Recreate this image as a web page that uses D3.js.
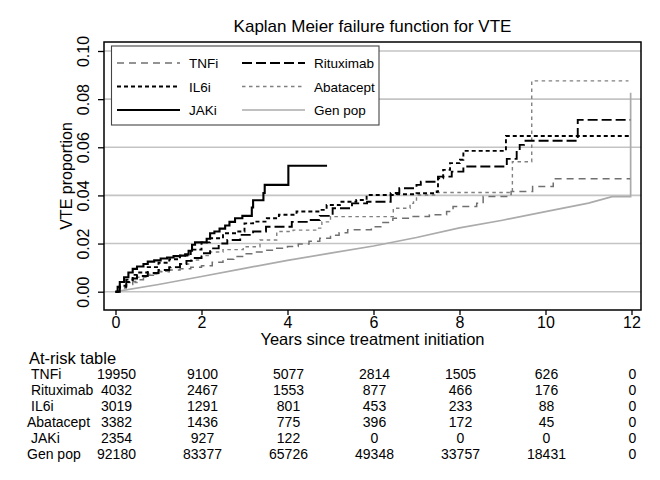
<!DOCTYPE html>
<html>
<head>
<meta charset="utf-8">
<script src="https://cdn.jsdelivr.net/npm/d3@7"></script>
<style>
  html, body { margin: 0; padding: 0; background: #fff; }
  svg { display: block; font-family: "Liberation Sans", Arial, sans-serif; }
</style>
</head>
<body>
<svg id="chart" width="660" height="480"></svg>
<script>
// ---------------- DATA ----------------
const xTicks = [0, 2, 4, 6, 8, 10, 12];
const yTicks = [0, 0.02, 0.04, 0.06, 0.08, 0.10];
const seriesNames = ["TNFi", "Rituximab", "IL6i", "Abatacept", "JAKi", "Gen pop"];

const tnfi = [[0,0],[0.1,0.0015],[0.25,0.003],[0.4,0.0042],[0.5,0.005],[0.65,0.006],[0.75,0.0068],[0.9,0.0076],[1,0.0083],[1.25,0.009],[1.5,0.0095],[1.75,0.0102],[2,0.0108],[2.25,0.0122],[2.5,0.0135],[2.75,0.0146],[3,0.0158],[3.25,0.0165],[3.5,0.0172],[3.75,0.018],[4,0.0188],[4.25,0.0198],[4.5,0.021],[4.75,0.0222],[5,0.0235],[5.2,0.0245],[5.4,0.0257],[5.95,0.027],[6.2,0.0288],[6.45,0.0305],[6.9,0.0312],[7.3,0.032],[7.7,0.0333],[7.85,0.0354],[8.4,0.0367],[8.55,0.0395],[9.2,0.0416],[9.7,0.0437],[10.18,0.0469],[11.97,0.0469]];
const rituximab = [[0,0],[0.1,0.002],[0.25,0.004],[0.4,0.0055],[0.5,0.0065],[0.75,0.0078],[1,0.009],[1.25,0.0102],[1.5,0.0115],[1.65,0.0128],[1.8,0.014],[2,0.016],[2.2,0.018],[2.4,0.02],[2.6,0.0215],[2.9,0.0236],[3.2,0.025],[3.5,0.027],[4.1,0.029],[4.5,0.0298],[4.75,0.0315],[5.05,0.0347],[5.5,0.0367],[5.85,0.0374],[6.4,0.041],[6.6,0.043],[7.0,0.0444],[7.1,0.0457],[7.5,0.0478],[7.82,0.0499],[8.09,0.052],[9.1,0.0552],[9.33,0.0589],[9.4,0.061],[9.5,0.0627],[10.75,0.0714],[11.97,0.0714]];
const il6i = [[0,0],[0.1,0.0025],[0.25,0.005],[0.4,0.007],[0.5,0.008],[0.75,0.0102],[1,0.012],[1.25,0.0135],[1.5,0.015],[1.75,0.0175],[2,0.0205],[2.2,0.0222],[2.5,0.0243],[2.82,0.025],[3.0,0.0284],[3.2,0.0291],[3.52,0.0305],[3.8,0.032],[4.21,0.0333],[4.76,0.034],[4.91,0.036],[5.22,0.0374],[5.6,0.0381],[5.84,0.0402],[6.54,0.0405],[7.0,0.0409],[7.47,0.0416],[7.5,0.0471],[7.62,0.0506],[7.78,0.0534],[8.01,0.0548],[8.09,0.0585],[9.08,0.0647],[11.97,0.0647]];
const abatacept = [[0,0],[0.1,0.002],[0.25,0.0038],[0.5,0.006],[0.75,0.0073],[1,0.0085],[1.25,0.01],[1.5,0.0115],[1.75,0.0132],[2,0.015],[2.2,0.0165],[2.5,0.0175],[2.97,0.0187],[3.36,0.0215],[3.75,0.025],[4.13,0.0256],[4.68,0.0264],[4.8,0.029],[5.0,0.0312],[6.46,0.0347],[6.85,0.0367],[6.93,0.0381],[7.0,0.0402],[7.47,0.0412],[9.23,0.054],[9.68,0.0876],[11.93,0.0876]];
const jaki = [[0,0],[0.05,0.002],[0.1,0.004],[0.2,0.006],[0.3,0.008],[0.4,0.0095],[0.5,0.0105],[0.65,0.0115],[0.75,0.0125],[0.9,0.013],[1.05,0.0138],[1.2,0.0142],[1.35,0.0148],[1.5,0.015],[1.62,0.0155],[1.7,0.017],[1.78,0.0195],[1.85,0.0205],[2.05,0.0205],[2.12,0.022],[2.2,0.0243],[2.3,0.025],[2.42,0.0262],[2.55,0.0275],[2.65,0.029],[2.78,0.0305],[2.95,0.0315],[3.17,0.035],[3.2,0.038],[3.44,0.041],[3.47,0.0444],[4.02,0.0523],[4.92,0.0523]];
const genpop = [[0,0],[1,0.003],[2,0.0063],[3,0.0097],[4,0.013],[5,0.016],[6,0.019],[7,0.0225],[8,0.0265],[9,0.0297],[10,0.0333],[11,0.0368],[11.55,0.0395],[11.98,0.0395],[11.98,0.0827]];

const riskTimes = [0, 2, 4, 6, 8, 10, 12];
const riskTNFi = [19950, 9100, 5077, 2814, 1505, 626, 0];
const riskRituximab = [4032, 2467, 1553, 877, 466, 176, 0];
const riskIL6i = [3019, 1291, 801, 453, 233, 88, 0];
const riskAbatacept = [3382, 1436, 775, 396, 172, 45, 0];
const riskJAKi = [2354, 927, 122, 0, 0, 0, 0];
const riskGenpop = [92180, 83377, 65726, 49348, 33757, 18431, 0];

// ---------------- CHART ----------------
const svg = d3.select("#chart");
const font = '"Liberation Sans", Arial, sans-serif';

const frame = {left: 104, right: 641, top: 42, bottom: 310};
const x = d3.scaleLinear().domain([0, 12]).range([115.5, 631.5]);
const y = d3.scaleLinear().domain([0, 0.10]).range([291.7, 51]);

// gridlines
svg.append("g").selectAll("line").data(yTicks).join("line")
  .attr("x1", frame.left).attr("x2", frame.right)
  .attr("y1", d => y(d)).attr("y2", d => y(d))
  .attr("stroke", "#c4c4c4").attr("stroke-width", 1.6);

const styles = {
  "TNFi":      {data: tnfi,      color: "#707070", width: 1.5, dash: "7,5",  curve: d3.curveStepAfter},
  "Rituximab": {data: rituximab, color: "#000",    width: 1.9, dash: "10,4", curve: d3.curveStepAfter},
  "IL6i":      {data: il6i,      color: "#000",    width: 1.9, dash: "4,3",  curve: d3.curveStepAfter},
  "Abatacept": {data: abatacept, color: "#808080", width: 1.4, dash: "3.5,3.5", curve: d3.curveStepAfter},
  "JAKi":      {data: jaki,      color: "#000",    width: 2.1, dash: null,   curve: d3.curveStepAfter},
  "Gen pop":   {data: genpop,    color: "#ababab", width: 1.7, dash: null,   curve: d3.curveLinear}
};

const drawOrder = ["Gen pop", "TNFi", "Abatacept", "Rituximab", "IL6i", "JAKi"];
drawOrder.forEach(name => {
  const s = styles[name];
  const line = d3.line().x(d => x(d[0])).y(d => y(d[1])).curve(s.curve);
  svg.append("path").datum(s.data)
    .attr("d", line)
    .attr("fill", "none")
    .attr("stroke", s.color)
    .attr("stroke-width", s.width)
    .attr("stroke-dasharray", s.dash);
});

// frame
svg.append("rect")
  .attr("x", frame.left).attr("y", frame.top)
  .attr("width", frame.right - frame.left).attr("height", frame.bottom - frame.top)
  .attr("fill", "none").attr("stroke", "#000").attr("stroke-width", 1.5);

// x axis
const xAxis = svg.append("g").attr("transform", `translate(0,${frame.bottom})`)
  .call(d3.axisBottom(x).tickValues(xTicks).tickSize(5).tickPadding(2).tickFormat(d3.format("d")));
xAxis.select(".domain").remove();
xAxis.selectAll("line").attr("stroke", "#000").attr("stroke-width", 1.3);
xAxis.selectAll("text").attr("font-size", 16).attr("font-family", font).attr("fill", "#000");

// y axis
const yAxis = svg.append("g").attr("transform", `translate(${frame.left},0)`)
  .call(d3.axisLeft(y).tickValues(yTicks).tickSize(6).tickFormat(d3.format(".2f")));
yAxis.select(".domain").remove();
yAxis.selectAll("line").attr("stroke", "#000").attr("stroke-width", 1.3);
yAxis.selectAll(".tick text")
  .attr("font-size", 16).attr("font-family", font).attr("fill", "#000")
  .attr("x", 0).attr("y", 0).attr("dy", null)
  .attr("text-anchor", "middle")
  .attr("transform", "translate(-15,0) rotate(-90)");

// axis titles
svg.append("text").attr("x", 372.5).attr("y", 345).attr("text-anchor", "middle")
  .attr("font-size", 16.5).attr("font-family", font).text("Years since treatment initiation");
svg.append("text").attr("transform", "translate(72,176) rotate(-90)").attr("text-anchor", "middle")
  .attr("font-size", 16).attr("font-family", font).text("VTE proportion");

// title
svg.append("text").attr("x", 372.5).attr("y", 32).attr("text-anchor", "middle")
  .attr("font-size", 17).attr("font-family", font).text("Kaplan Meier failure function for VTE");

// legend
const lg = svg.append("g");
lg.append("rect").attr("x", 111.5).attr("y", 46).attr("width", 267.5).attr("height", 79)
  .attr("fill", "#fff").attr("stroke", "#444").attr("stroke-width", 1.1);
const legendPos = {
  "TNFi": [0, 0], "Rituximab": [1, 0],
  "IL6i": [0, 1], "Abatacept": [1, 1],
  "JAKi": [0, 2], "Gen pop": [1, 2]
};
seriesNames.forEach(name => {
  const s = styles[name];
  const [c, r] = legendPos[name];
  const x0 = c === 0 ? 117 : 242;
  const yy = 63 + r * 23.5;
  lg.append("line").attr("x1", x0).attr("x2", x0 + 63).attr("y1", yy).attr("y2", yy)
    .attr("stroke", s.color).attr("stroke-width", s.width).attr("stroke-dasharray", s.dash);
  lg.append("text").attr("x", x0 + 72).attr("y", yy + 5)
    .attr("font-size", 13.5).attr("font-family", font).text(name);
});

// at-risk table
svg.append("text").attr("x", 29).attr("y", 364).attr("font-size", 16.5).attr("font-family", font).text("At-risk table");
const riskRows = [
  ["TNFi", riskTNFi], ["Rituximab", riskRituximab], ["IL6i", riskIL6i],
  ["Abatacept", riskAbatacept], ["JAKi", riskJAKi], ["Gen pop", riskGenpop]
];
riskRows.forEach(([name, vals], i) => {
  const yy = 379 + i * 16;
  svg.append("text").attr("x", name === "Abatacept" || name === "Gen pop" ? 27 : 31).attr("y", yy)
    .attr("font-size", 14).attr("font-family", font).text(name);
  svg.append("g").selectAll("text").data(vals).join("text")
    .attr("x", (d, j) => x(riskTimes[j]) + 1).attr("y", yy)
    .attr("text-anchor", "middle").attr("font-size", 14).attr("font-family", font)
    .text(d => d);
});
</script>
</body>
</html>
